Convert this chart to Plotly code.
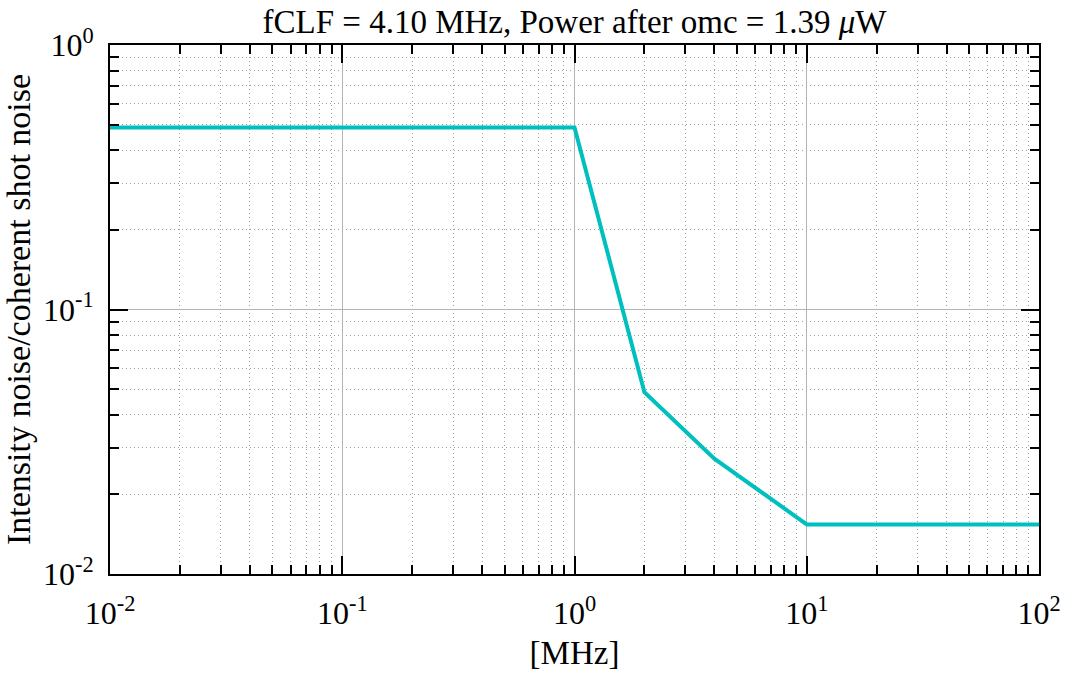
import plotly.graph_objects as go

freq_mhz = [0.01, 1.0, 2.0, 4.0, 10.0, 100.0]
noise_ratio = [0.488, 0.488, 0.0487, 0.0273, 0.0154, 0.0154]

x_tickvals = [0.01, 0.1, 1, 10, 100]
x_ticktext = ["10<sup>-2</sup>", "10<sup>-1</sup>", "10<sup>0</sup>", "10<sup>1</sup>", "10<sup>2</sup>"]
y_tickvals = [0.01, 0.1, 1]
y_ticktext = ["10<sup>-2</sup>", "10<sup>-1</sup>", "10<sup>0</sup>"]

title_text = "fCLF = 4.10 MHz, Power after omc = 1.39 <i>μ</i>W"
x_title = "[MHz]"
y_title = "Intensity noise/coherent shot noise"

FONT = "Liberation Serif, Times New Roman, serif"

fig = go.Figure()
fig.add_trace(go.Scatter(x=freq_mhz, y=noise_ratio, mode="lines",
                         line=dict(color="#00BFBF", width=4), showlegend=False))

axis_common = dict(
    type="log",
    showline=True, linecolor="black", linewidth=2, mirror="allticks",
    ticks="inside", ticklen=18, tickcolor="black", tickwidth=1.5,
    showgrid=True, gridcolor="#b4b4b4", gridwidth=1,
    zeroline=False,
    tickfont=dict(family=FONT, size=32, color="black"),
    minor=dict(ticks="inside", ticklen=9, tickcolor="black", tickwidth=1.5,
               showgrid=True, gridcolor="#a0a0a0", griddash="1px,3px", gridwidth=1,
               dtick="D1"),
)

fig.update_xaxes(**axis_common, range=[-2, 2], tickvals=x_tickvals, ticktext=x_ticktext,
                 ticklabelstandoff=10,
                 title=dict(text=x_title, font=dict(family=FONT, size=33, color="black"), standoff=10))
fig.update_yaxes(**axis_common, range=[-2, 0], tickvals=y_tickvals, ticktext=y_ticktext,
                 ticklabelstandoff=8,
                 title=dict(text=y_title, font=dict(family=FONT, size=34, color="black"), standoff=6))

fig.update_layout(
    width=1073, height=677,
    margin=dict(l=110, r=27, t=45, b=101),
    paper_bgcolor="white", plot_bgcolor="white",
    title=dict(text=title_text, x=0.5, xref="paper", xanchor="center",
               y=1, yref="paper", yanchor="bottom", pad=dict(b=12),
               font=dict(family=FONT, size=33, color="black")),
)

fig.write_html("out.html")
